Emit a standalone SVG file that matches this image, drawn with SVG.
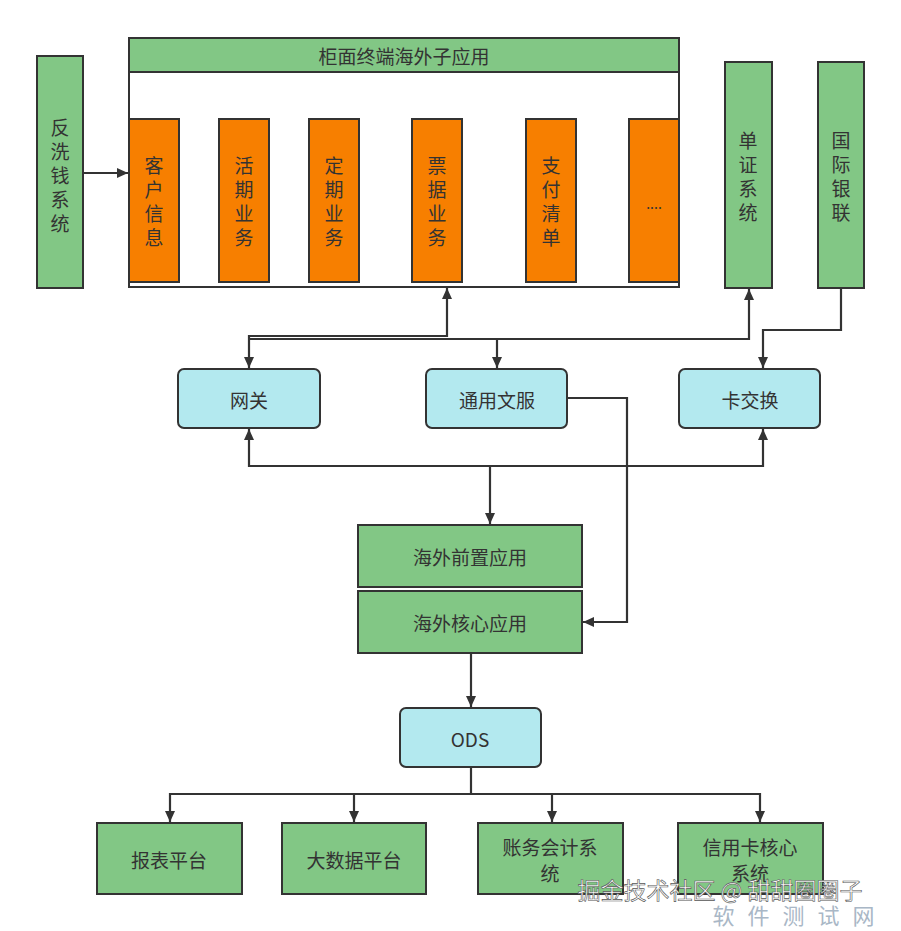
<svg xmlns="http://www.w3.org/2000/svg" width="901" height="931" viewBox="0 0 901 931">
<style>
.g{fill:#82c785;stroke:#333;stroke-width:2}
.o{fill:#f77f00;stroke:#333;stroke-width:2}
.b{fill:#b3e9ef;stroke:#333;stroke-width:2}
.t{font-family:"Noto Sans CJK SC","Liberation Sans",sans-serif;font-size:19px;fill:#333;text-anchor:middle;dominant-baseline:central}
.v{font-family:"Noto Sans CJK SC","Liberation Sans",sans-serif;font-size:19px;fill:#333;text-anchor:middle;dominant-baseline:central;writing-mode:vertical-rl;letter-spacing:5px}
.c{fill:none;stroke:#333;stroke-width:2.2}
</style>
<defs>
<marker id="a" markerUnits="userSpaceOnUse" markerWidth="12" markerHeight="12" refX="11" refY="6" orient="auto-start-reverse">
<path d="M0,1 L11,6 L0,11 Z" fill="#333"/>
</marker>
</defs>
<rect width="901" height="931" fill="#fff"/>
<g id="frame">
<rect x="129" y="38" width="550" height="249" fill="#fff" stroke="#333" stroke-width="2"/>
<rect x="129" y="38" width="550" height="34" class="g"/>
<text class="t" x="404" y="55">柜面终端海外子应用</text>
</g>
<g id="n-kehu"><rect x="129" y="119" width="50" height="163" class="o"/><text class="v" x="154" y="204">客户信息</text></g>
<g id="n-huoqi"><rect x="219" y="119" width="50" height="163" class="o"/><text class="v" x="244" y="204">活期业务</text></g>
<g id="n-dingqi"><rect x="309" y="119" width="50" height="163" class="o"/><text class="v" x="334" y="204">定期业务</text></g>
<g id="n-piaoju"><rect x="412" y="119" width="50" height="163" class="o"/><text class="v" x="437" y="204">票据业务</text></g>
<g id="n-zhifu"><rect x="526" y="119" width="50" height="163" class="o"/><text class="v" x="551" y="204">支付清单</text></g>
<g id="n-more"><rect x="629" y="119" width="50" height="163" class="o"/><text class="t" x="654" y="203" style="font-size:14px">....</text></g>
<g id="n-fxq"><rect x="37" y="56" width="46" height="232" class="g"/><text class="v" x="60" y="178">反洗钱系统</text></g>
<g id="n-danzheng"><rect x="725" y="62" width="47" height="226" class="g"/><text class="v" x="748" y="179">单证系统</text></g>
<g id="n-yinlian"><rect x="818" y="62" width="46" height="226" class="g"/><text class="v" x="841" y="179">国际银联</text></g>
<g id="n-wangguan"><rect x="178" y="369" width="142" height="59" rx="6" class="b"/><text class="t" x="249" y="399">网关</text></g>
<g id="n-wenfu"><rect x="426" y="369" width="141" height="59" rx="6" class="b"/><text class="t" x="497" y="399">通用文服</text></g>
<g id="n-kajiaohuan"><rect x="679" y="369" width="141" height="59" rx="6" class="b"/><text class="t" x="750" y="399">卡交换</text></g>
<g id="n-qianzhi"><rect x="358" y="525" width="224" height="62" class="g"/><text class="t" x="470" y="556">海外前置应用</text></g>
<g id="n-hexin"><rect x="358" y="591" width="224" height="62" class="g"/><text class="t" x="470" y="622">海外核心应用</text></g>
<g id="n-ods"><rect x="400" y="708" width="141" height="59" rx="6" class="b"/><text class="t" x="470" y="738">ODS</text></g>
<g id="n-baobiao"><rect x="97" y="823" width="145" height="71" class="g"/><text class="t" x="169" y="859">报表平台</text></g>
<g id="n-dashuju"><rect x="282" y="823" width="144" height="71" class="g"/><text class="t" x="354" y="859">大数据平台</text></g>
<g id="n-zhangwu"><rect x="478" y="823" width="145" height="71" class="g"/><text class="t"><tspan x="550" y="846">账务会计系</tspan><tspan x="550" y="872">统</tspan></text></g>
<g id="n-xinyongka"><rect x="678" y="823" width="145" height="71" class="g"/><text class="t"><tspan x="750" y="846">信用卡核心</tspan><tspan x="750" y="872">系统</tspan></text></g>
<g id="connectors">
<path class="c" d="M83,173 H128" marker-end="url(#a)"/>
<path class="c" d="M249,368 V336 H447 V288" marker-start="url(#a)" marker-end="url(#a)"/>
<path class="c" d="M249,339 H749 V289" marker-end="url(#a)"/>
<path class="c" d="M497,339 V368" marker-end="url(#a)"/>
<path class="c" d="M841,288 V330 H763 V368" marker-end="url(#a)"/>
<path class="c" d="M567,398 H627 V622 H583" marker-end="url(#a)"/>
<path class="c" d="M249,429 V466 H763 V429" marker-start="url(#a)" marker-end="url(#a)"/>
<path class="c" d="M490,466 V524" marker-end="url(#a)"/>
<path class="c" d="M471,653 V707" marker-end="url(#a)"/>
<path class="c" d="M471,767 V794"/>
<path class="c" d="M170,822 V794 H760 V822" marker-start="url(#a)" marker-end="url(#a)"/>
<path class="c" d="M354,794 V822" marker-end="url(#a)"/>
<path class="c" d="M552,794 V822" marker-end="url(#a)"/>
</g>
<g id="watermark">
<text x="720" y="889" style="font-family:'Noto Sans CJK SC',sans-serif;font-size:23px;fill:#fff;stroke:#555;stroke-width:0.6;text-anchor:middle;dominant-baseline:central">掘金技术社区 @ 甜甜圈圈子</text>
<text x="800" y="914" style="font-family:'Noto Sans CJK SC',sans-serif;font-size:22px;fill:#a9b7c6;letter-spacing:13px;text-anchor:middle;dominant-baseline:central">软件测试网</text>
</g>
</svg>
